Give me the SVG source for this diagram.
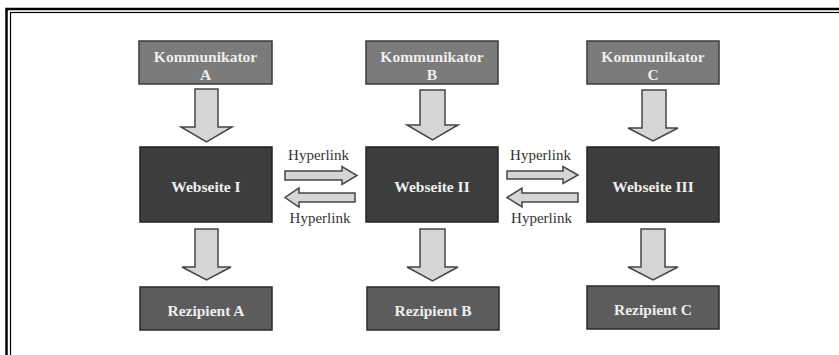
<svg xmlns="http://www.w3.org/2000/svg" width="839" height="355" viewBox="0 0 839 355">
<style>
.kom{fill:#7b7b7b;stroke:#3a3a3a;stroke-width:1.5}
.web{fill:#3d3d3d;stroke:#222;stroke-width:1.5}
.rez{fill:#5c5c5c;stroke:#2a2a2a;stroke-width:1.5}
.lbl{font-family:"Liberation Serif","Times New Roman",serif;font-weight:bold;font-size:15.5px;fill:#eeeeee;text-anchor:middle}
.hl{font-family:"Liberation Serif","Times New Roman",serif;font-size:15px;fill:#333;text-anchor:middle}
.arr{fill:#d6d6d6;stroke:#454545;stroke-width:1.5;stroke-linejoin:miter}
</style>
<rect width="839" height="355" fill="#fff"/>
<g id="frame" fill="none" stroke="#000">
<rect x="6.5" y="9" width="900" height="400" stroke-width="2.5"/>
<rect x="10.5" y="12.5" width="900" height="400" stroke-width="1.2"/>
</g>
<g id="kommA"><rect class="kom" x="139" y="41" width="133" height="43"/><text class="lbl" x="205.5" y="62">Kommunikator</text><text class="lbl" x="205.5" y="80">A</text></g>
<g id="kommB"><rect class="kom" x="366" y="41" width="132" height="43"/><text class="lbl" x="432" y="62">Kommunikator</text><text class="lbl" x="432" y="80">B</text></g>
<g id="kommC"><rect class="kom" x="587" y="41" width="132" height="43"/><text class="lbl" x="653" y="62">Kommunikator</text><text class="lbl" x="653" y="80">C</text></g>
<g id="webI"><rect class="web" x="140" y="147" width="132" height="75"/><text class="lbl" x="206" y="192">Webseite I</text></g>
<g id="webII"><rect class="web" x="366" y="147" width="132" height="75"/><text class="lbl" x="432" y="192">Webseite II</text></g>
<g id="webIII"><rect class="web" x="587" y="147" width="132" height="75"/><text class="lbl" x="653" y="192">Webseite III</text></g>
<g id="rezA"><rect class="rez" x="140" y="287" width="132" height="43"/><text class="lbl" x="206" y="316">Rezipient A</text></g>
<g id="rezB"><rect class="rez" x="367" y="287" width="132" height="43"/><text class="lbl" x="433" y="316">Rezipient B</text></g>
<g id="rezC"><rect class="rez" x="587" y="286" width="132" height="43"/><text class="lbl" x="653" y="315">Rezipient C</text></g>
<g id="connectors">
<path class="arr" d="M195,89 H218 V127 H232 L206.5,142 L181,127 H195 Z"/>
<path class="arr" d="M420,90 H445 V125 H458 L432.5,140 L407,125 H420 Z"/>
<path class="arr" d="M642,90 H666 V128 H678 L653,141 L628,128 H642 Z"/>
<path class="arr" d="M195,229 H218 V267 H231 L206.5,280 L182,267 H195 Z"/>
<path class="arr" d="M420,229 H445 V267 H458 L432.5,281 L407,267 H420 Z"/>
<path class="arr" d="M641,229 H665 V267 H678 L653,280 L628,267 H641 Z"/>
<path class="arr" d="M285,171 H342 V166.5 L357,175.5 L342,184.5 V180 H285 Z"/>
<path class="arr" d="M355,193 H299 V188 L285,197.5 L299,207 V202 H355 Z"/>
<path class="arr" d="M507,171 H563 V166.5 L578,175 L563,183.5 V179 H507 Z"/>
<path class="arr" d="M578,193 H522 V188 L507,197.5 L522,207 V202 H578 Z"/>
<text class="hl" x="318.5" y="160">Hyperlink</text>
<text class="hl" x="320" y="223">Hyperlink</text>
<text class="hl" x="540.5" y="160">Hyperlink</text>
<text class="hl" x="541.5" y="223">Hyperlink</text>
</g>
</svg>
